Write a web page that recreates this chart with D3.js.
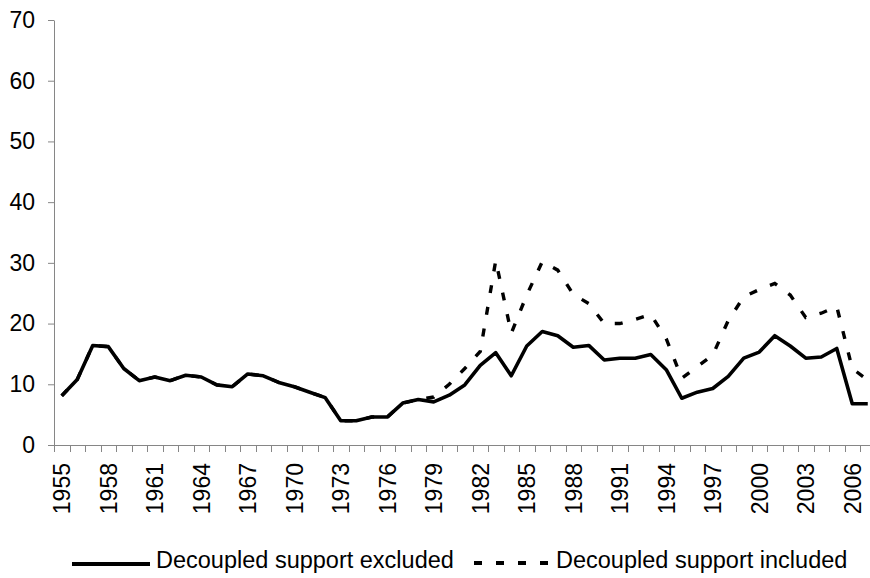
<!DOCTYPE html>
<html>
<head>
<meta charset="utf-8">
<script src="https://cdn.jsdelivr.net/npm/d3@7"></script>
<style>
  html, body { margin: 0; padding: 0; background: #fff; }
  svg { display: block; font-family: "Liberation Sans", Arial, sans-serif; }
</style>
</head>
<body>
<svg id="chart" width="870" height="578"></svg>
<script>
// ---- data ----
const years = d3.range(1955, 2008);
const labelYears = d3.range(1955, 2008, 3);
const yTicks = [0, 10, 20, 30, 40, 50, 60, 70];
const excluded = [
  8.1, 10.8, 16.4, 16.2, 12.6, 10.6, 11.2, 10.6, 11.5, 11.2,
  9.9, 9.6, 11.7, 11.4, 10.3, 9.6, 8.7, 7.8, 4.0, 4.0,
  4.6, 4.6, 6.9, 7.5, 7.1, 8.2, 9.9, 13.1, 15.2, 11.4,
  16.3, 18.7, 18.0, 16.1, 16.4, 14.0, 14.3, 14.3, 14.9, 12.4,
  7.7, 8.7, 9.3, 11.3, 14.3, 15.3, 18.0, 16.3, 14.3, 14.5,
  15.9, 6.8, 6.8
];
const included = [
  8.1, 10.8, 16.4, 16.2, 12.6, 10.6, 11.2, 10.6, 11.5, 11.2,
  9.9, 9.6, 11.7, 11.4, 10.3, 9.6, 8.7, 7.8, 4.0, 4.0,
  4.6, 4.6, 6.9, 7.5, 7.9, 10.0, 12.6, 15.4, 30.4, 18.4,
  24.7, 30.2, 28.8, 24.8, 23.3, 20.0, 20.0, 20.7, 21.5, 17.5,
  11.0, 12.9, 14.8, 20.5, 24.4, 25.6, 26.6, 24.7, 21.0, 21.7,
  22.8, 12.6, 10.7
];
const seriesNames = ["Decoupled support excluded", "Decoupled support included"];

// ---- layout ----
const svg = d3.select("#chart");
const mLeft = 54, mTop = 20, mBottom = 445, bandW = 15.5;
const x = d3.scaleBand().domain(years).range([mLeft, mLeft + bandW * years.length]).padding(0);
const y = d3.scaleLinear().domain([0, 70]).range([mBottom, mTop]);
const axisColor = "#868686";
const fontSize = 23;
const fontFam = '"Liberation Sans", Arial, sans-serif';

svg.append("rect").attr("width", 870).attr("height", 578).attr("fill", "#fff");

// y axis
const yAxis = svg.append("g")
  .attr("transform", `translate(${mLeft},0)`)
  .call(d3.axisLeft(y).tickValues(yTicks).tickSize(6).tickPadding(13).tickSizeOuter(0));
yAxis.select(".domain").attr("stroke", axisColor);
yAxis.selectAll(".tick line").attr("stroke", axisColor);
yAxis.selectAll(".tick text").attr("fill", "#000").style("font-size", fontSize + "px")
  .style("font-family", fontFam);

// x axis line
svg.append("line")
  .attr("x1", mLeft - 6).attr("x2", 870).attr("y1", mBottom + 0.5).attr("y2", mBottom + 0.5)
  .attr("stroke", axisColor).attr("stroke-width", 1);

// x tick marks at band boundaries
svg.append("g").selectAll("line").data(years).join("line")
  .attr("x1", d => Math.round(x(d)) + 0.5).attr("x2", d => Math.round(x(d)) + 0.5)
  .attr("y1", mBottom).attr("y2", mBottom + 7)
  .attr("stroke", axisColor).attr("stroke-width", 1);

// x labels (rotated) via axis
const xAxis = svg.append("g")
  .attr("transform", `translate(0,${mBottom})`)
  .call(d3.axisBottom(x).tickValues(labelYears).tickSize(0).tickSizeOuter(0));
xAxis.select(".domain").remove();
xAxis.selectAll(".tick text")
  .attr("fill", "#000")
  .style("font-size", fontSize + "px")
  .style("font-family", fontFam)
  .attr("text-anchor", "end")
  .attr("transform", "rotate(-90)")
  .attr("x", -18)
  .attr("y", 0)
  .attr("dy", "0.36em");

// lines
const line = d3.line()
  .x((d, i) => x(years[i]) + x.bandwidth() / 2)
  .y(d => y(d));

svg.append("path")
  .datum(excluded)
  .attr("d", line)
  .attr("fill", "none")
  .attr("stroke", "#000")
  .attr("stroke-width", 3.6)
  .attr("stroke-linejoin", "round");

svg.append("path")
  .datum(included)
  .attr("d", line)
  .attr("fill", "none")
  .attr("stroke", "#000")
  .attr("stroke-width", 3.4)
  .attr("stroke-dasharray", "8,14");

// legend
const legend = svg.append("g").style("font-family", fontFam);
legend.append("line")
  .attr("x1", 72).attr("x2", 150).attr("y1", 564).attr("y2", 564)
  .attr("stroke", "#000").attr("stroke-width", 4);
legend.append("text")
  .attr("x", 156).attr("y", 568)
  .style("font-size", "23.5px").attr("fill", "#000")
  .text(seriesNames[0]);
legend.append("line")
  .attr("x1", 474).attr("x2", 552).attr("y1", 563).attr("y2", 563)
  .attr("stroke", "#000").attr("stroke-width", 4)
  .attr("stroke-dasharray", "8,14");
legend.append("text")
  .attr("x", 556).attr("y", 568)
  .style("font-size", "23.5px").attr("fill", "#000")
  .text(seriesNames[1]);
</script>
</body>
</html>
